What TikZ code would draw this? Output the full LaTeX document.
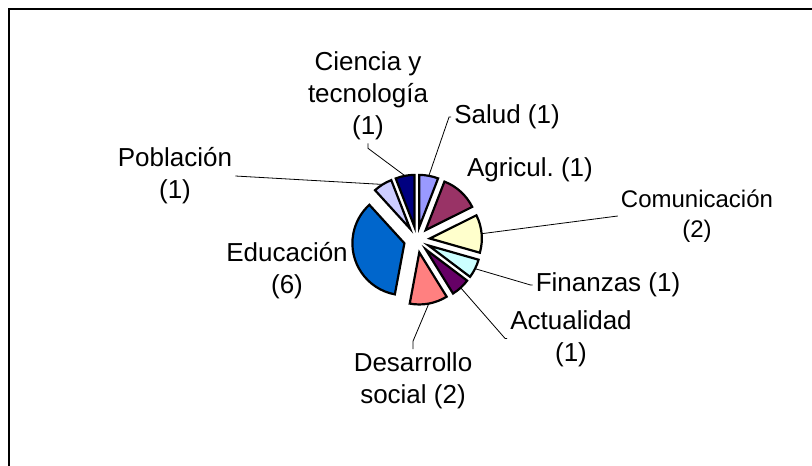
\documentclass[tikz,border=0pt]{standalone}
\usepackage{fontspec}
\setmainfont{Liberation Sans}

\definecolor{salud}{HTML}{9999FF}
\definecolor{agricul}{HTML}{993366}
\definecolor{comunicacion}{HTML}{FFFFCC}
\definecolor{finanzas}{HTML}{CCFFFF}
\definecolor{actualidad}{HTML}{660066}
\definecolor{desarrollo}{HTML}{FF8080}
\definecolor{educacion}{HTML}{0066CC}
\definecolor{poblacion}{HTML}{CCCCFF}
\definecolor{ciencia}{HTML}{000080}

\begin{document}
\begin{tikzpicture}[x=1pt, y=1pt,
    every node/.style={font=\fontsize{26}{32}\selectfont, align=center, inner sep=3pt},
    slice/.style={draw=black, line width=2.2pt},
    leader/.style={black, line width=0.8pt}]
  \useasboundingbox (0,0) rectangle (812,466);
  % chart frame, only top and left edges show
  \draw[line width=1.4pt] (812,457) -- (9,457) -- (9,0);

  % exploded slices, clockwise from the top (17 counts, 360/17 deg each)
  \begin{scope}[shift={(416.9,226.3)}]
    \foreach \a/\b/\col in {90/68.82/salud, 68.82/26.47/agricul,
        26.47/-15.88/comunicacion, -15.88/-37.06/finanzas,
        -37.06/-58.24/actualidad, -58.24/-100.59/desarrollo,
        -100.59/-227.65/educacion, -227.65/-248.82/poblacion,
        -248.82/-270/ciencia}{
      \pgfmathsetmacro\m{(\a+\b)/2}
      \filldraw[slice, fill=\col] (\m:13) -- ++(\a:52)
        arc[start angle=\a, end angle=\b, radius=52] -- cycle;
      \coordinate (p-\col) at (\m:65);
    }
  \end{scope}

  % labels
  \node (salud) at (507,349) {Salud (1)};
  \node (agricul) at (530,296) {Agricul.\ (1)};
  \node[font=\fontsize{24}{30}\selectfont] (comunicacion) at (697,250) {Comunicación\\(2)};
  \node (finanzas) at (608,181) {Finanzas (1)};
  \node (actualidad) at (571,127.5) {Actualidad\\(1)};
  \node (desarrollo) at (413,85.5) {Desarrollo\\social (2)};
  \node (educacion) at (287,195.5) {Educación\\(6)};
  \node (poblacion) at (175,290) {Población\\(1)};
  \node (ciencia) at (368,370) {Ciencia y\\tecnología\\(1)};

  % leader lines
  \draw[leader] (salud.west) -- ++(-2,0) -- (p-salud);
  \draw[leader] (comunicacion.west) -- (p-comunicacion);
  \draw[leader] (finanzas.west) -- ++(-2,0) -- (p-finanzas);
  \draw[leader] (actualidad.west) -- ++(-2,0) -- (p-actualidad);
  \draw[leader] (desarrollo.north) -- ++(0,8) -- (p-desarrollo);
  \draw[leader] (poblacion.east) -- (p-poblacion);
  \draw[leader] (ciencia.south) -- ++(0,-5) -- (p-ciencia);
\end{tikzpicture}
\end{document}
